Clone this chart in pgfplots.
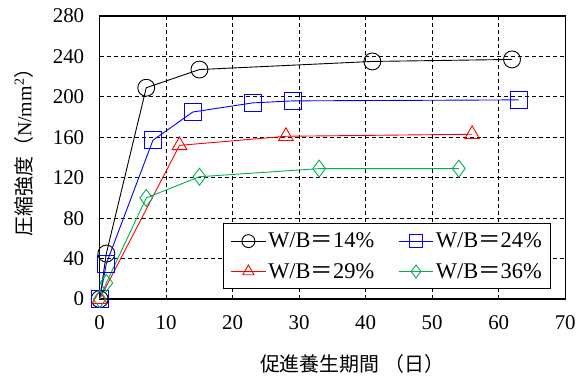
\documentclass[border=0pt]{standalone}
\usepackage{pgfplots}
\pgfplotsset{compat=1.18}
\usepackage{fontspec}
\setmainfont{Liberation Serif}
\newfontfamily\cjk{Noto Sans CJK JP}
\definecolor{wbgreen}{RGB}{0,176,80}
\begin{document}
\begin{tikzpicture}
\begin{axis}[
  scale only axis,
  width=467bp, height=284bp,
  xmin=0, xmax=70, ymin=0, ymax=280,
  xtick={0,10,...,70}, ytick={0,40,...,280},
  grid=major,
  major grid style={black, line width=0.9bp, dash pattern=on 4bp off 3bp},
  axis line style={line width=1.4bp},
  major tick length=0pt,
  clip=false,
  tick label style={font=\fontsize{21bp}{25bp}\selectfont},
  /pgf/number format/assume math mode=true,
  xticklabel shift=13bp,
  yticklabel shift=12bp,
  xlabel={{\cjk 促進養生期間 （日）}},
  ylabel={{\cjk 圧縮強度（}N/mm\textsuperscript{2}{\cjk ）}},
  label style={font=\fontsize{20bp}{24bp}\selectfont},
  xlabel style={at={(rel axis cs:0.542,0)}, anchor=north, yshift=-52bp},
  ylabel style={at={(rel axis cs:0,0.535)}, anchor=south, yshift=63bp},
  legend columns=2,
  legend cell align=left,
  legend style={
    at={(rel axis cs:0.970,0.035)}, anchor=south east,
    font=\fontsize{22.5bp}{26bp}\selectfont,
    draw=black, line width=1bp, fill=white,
    inner xsep=7bp, inner ysep=7bp,
    row sep=10bp,
    /tikz/every even column/.append style={column sep=22bp},
  },
  legend image code/.code={
    \draw[mark repeat=2, mark phase=2, mark size=6.5bp]
      plot coordinates {(0bp,0bp) (17.5bp,0bp) (35bp,0bp)};
  },
  every axis plot/.append style={line width=0.9bp, mark size=8.5bp},
]
\addplot[black, mark=o] coordinates {
  (0,0) (1,45) (7,209) (15,227) (41,235) (62,237)};
\addlegendentry{W/B{\cjk ＝}14\%}
\addplot[blue, mark=square] coordinates {
  (0,0) (1,35) (8,157) (14,185) (23,194) (29,196) (63,197)};
\addlegendentry{W/B{\cjk ＝}24\%}
\addplot[red, mark=triangle] coordinates {
  (0,0) (12,152) (28,161) (56,163)};
\addlegendentry{W/B{\cjk ＝}29\%}
\addplot[wbgreen, mark=diamond] coordinates {
  (0,0) (1,16) (7,100) (15,121) (33,129) (54,129)};
\addlegendentry{W/B{\cjk ＝}36\%}
\end{axis}
\path ([xshift=-100bp,yshift=-78bp]current axis.south west)
  rectangle ([xshift=12bp,yshift=16bp]current axis.north east);
\end{tikzpicture}
\end{document}
